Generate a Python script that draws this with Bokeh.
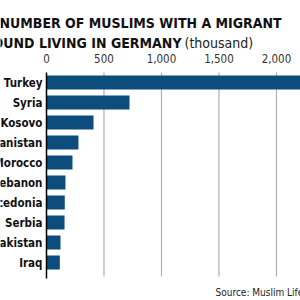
from bokeh.plotting import figure
from bokeh.models import Range1d, Label, ColumnDataSource
from bokeh.core.properties import value
from bokeh.embed import file_html
from bokeh.resources import INLINE

countries = ["Turkey", "Syria", "Kosovo", "Afghanistan", "Morocco", "Lebanon",
             "Macedonia", "Serbia", "Pakistan", "Iraq"]
values = [2500, 722, 409, 278, 226, 165, 159, 157, 122, 116]
ticks = [0, 500, 1000, 1500, 2000]
tick_labels = ["0", "500", "1,000", "1,500", "2,000"]
title_1 = "NUMBER OF MUSLIMS WITH A MIGRANT"
title_2 = "BACKGROUND LIVING IN GERMANY"
title_unit = "(thousand)"
source_text = "Source: Muslim Life in Germany 2020"

FONT = "DejaVu Sans Condensed"
BAR = "#0d4d7d"

idx = list(range(len(countries)))
p = figure(width=300, height=300, output_backend="svg", toolbar_location=None,
           x_range=Range1d(-400, 2209), y_range=Range1d(10.9, -4.1),
           min_border=0, outline_line_color=None)
p.axis.visible = False
p.grid.visible = False
p.background_fill_color = "white"
p.border_fill_color = "white"

p.segment(x0=ticks[1:], x1=ticks[1:], y0=-0.5, y1=9.7, line_color="#b0b0b0", line_width=1.2)

src = ColumnDataSource(dict(y=idx, v=values, c=countries))
p.hbar(y="y", left=0, right="v", height=0.7, source=src, fill_color=BAR, line_color=None)

p.segment(x0=[0], x1=[0], y0=-0.5, y1=9.8, line_color="black", line_width=1.5)

p.text(x=-35, y="y", text="c", source=src, text_align="right", text_baseline="middle",
       text_font=value(FONT), text_font_size="11.5px", text_font_style="bold", text_color="#111111")

p.text(x=ticks, y=[-1.2] * len(ticks), text=tick_labels, text_align="center",
       text_baseline="middle", text_font=value(FONT), text_font_size="11.5px", text_color="#333333")

p.add_layout(Label(x=-1, y=300 - 22, x_units="screen", y_units="screen", text=title_1,
                   text_font=FONT, text_font_size="14px", text_font_style="bold",
                   text_color="#111111", text_baseline="alphabetic"))
p.add_layout(Label(x=181, y=300 - 42, x_units="screen", y_units="screen", text=title_2,
                   text_font=FONT, text_font_size="14px", text_font_style="bold",
                   text_color="#111111", text_align="right", text_baseline="alphabetic"))
p.add_layout(Label(x=184, y=300 - 42, x_units="screen", y_units="screen", text=title_unit,
                   text_font=FONT, text_font_size="14px", text_color="#222222",
                   text_baseline="alphabetic"))
p.add_layout(Label(x=215, y=300 - 292, x_units="screen", y_units="screen", text=source_text,
                   text_font=FONT, text_font_size="10px", text_color="#222222",
                   text_baseline="alphabetic"))

open("out.html", "w").write(file_html(p, INLINE))
